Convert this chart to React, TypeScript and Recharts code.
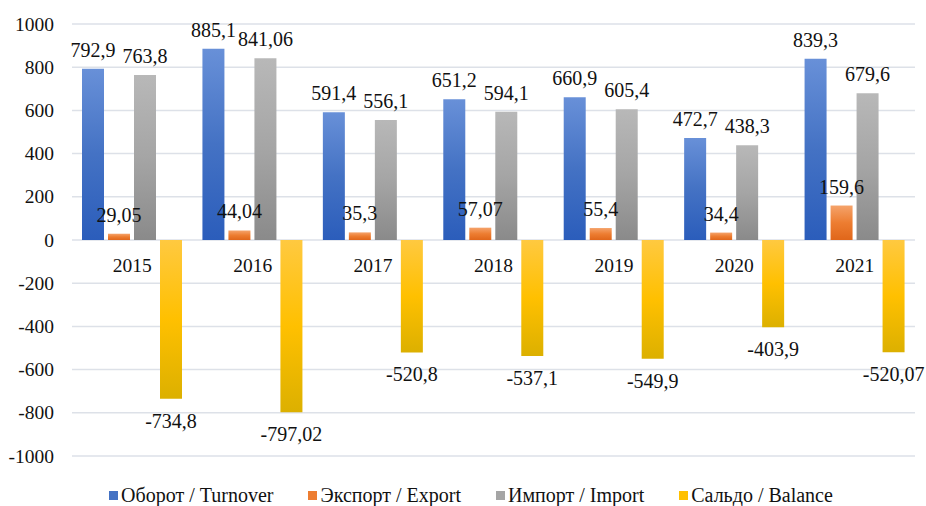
import { Bar, BarChart, CartesianGrid, LabelList, Legend, XAxis, YAxis } from "recharts";

const years = ["2015", "2016", "2017", "2018", "2019", "2020", "2021"];
const turnover = [792.9, 885.1, 591.4, 651.2, 660.9, 472.7, 839.3];
const exportVals = [29.05, 44.04, 35.3, 57.07, 55.4, 34.4, 159.6];
const importVals = [763.8, 841.06, 556.1, 594.1, 605.4, 438.3, 679.6];
const balance = [-734.8, -797.02, -520.8, -537.1, -549.9, -403.9, -520.07];
const yTicks = [-1000, -800, -600, -400, -200, 0, 200, 400, 600, 800, 1000];

// label text as printed in the source (comma decimals)
const turnoverLbl = ["792,9", "885,1", "591,4", "651,2", "660,9", "472,7", "839,3"];
const exportLbl = ["29,05", "44,04", "35,3", "57,07", "55,4", "34,4", "159,6"];
const importLbl = ["763,8", "841,06", "556,1", "594,1", "605,4", "438,3", "679,6"];
const balanceLbl = ["-734,8", "-797,02", "-520,8", "-537,1", "-549,9", "-403,9", "-520,07"];

const data = years.map((y, i) => ({
  year: y,
  turnover: turnover[i],
  export: exportVals[i],
  import: importVals[i],
  balance: balance[i],
  turnoverLbl: turnoverLbl[i],
  exportLbl: exportLbl[i],
  importLbl: importLbl[i],
  balanceLbl: balanceLbl[i],
}));

const FONT = "Liberation Serif";
const W = 926;
const H = 506;
const LEGEND_H = 24;
const M = { top: 24, right: 11, left: 10, bottom: 50 - LEGEND_H - 1 };
const PLOT_H = 432;

const series = [
  { key: "turnover", name: "Оборот / Turnover", stops: ["#6890d8", "#4472c4", "#2b5dbb"], swatch: "#4472c4" },
  { key: "export", name: "Экспорт / Export", stops: ["#f5a36b", "#ed7d31", "#e0661a"], swatch: "#ed7d31" },
  { key: "import", name: "Импорт / Import", stops: ["#b8b8b8", "#a5a5a5", "#8a8a8a"], swatch: "#a5a5a5" },
  { key: "balance", name: "Сальдо / Balance", stops: ["#ffc940", "#ffc000", "#dcb000"], swatch: "#ffc000" },
];

function BarLabel(props: any) {
  const { x, y, width, height, value } = props;
  const top = Math.min(y, y + height);
  const bottom = Math.max(y, y + height);
  const neg = String(value).startsWith("-");
  return (
    <text
      x={x + width / 2}
      y={neg ? bottom + 22 : top - 19}
      textAnchor="middle"
      dominantBaseline="central"
      style={{ fontFamily: FONT, fontSize: 20 }}
      fill="#111"
    >
      {value}
    </text>
  );
}

function YearTick(props: any) {
  const { x, y, payload } = props;
  // category names sit just under the zero line, not at the plot bottom
  return (
    <text x={x} y={y - PLOT_H / 2 + 25} textAnchor="middle" dominantBaseline="central" style={{ fontFamily: FONT, fontSize: 19.5 }} fill="#111">
      {payload.value}
    </text>
  );
}

function ValueTick(props: any) {
  const { x, y, payload } = props;
  return (
    <text x={x} y={y} textAnchor="end" dominantBaseline="central" style={{ fontFamily: FONT, fontSize: 19.5 }} fill="#111">
      {payload.value}
    </text>
  );
}

function LegendBox() {
  return (
    <div style={{ display: "flex", justifyContent: "center", gap: 35, paddingLeft: 17, height: LEGEND_H, fontFamily: FONT, fontSize: 20, color: "#111", lineHeight: `${LEGEND_H}px` }}>
      {series.map((s) => (
        <span key={s.key} style={{ display: "flex", alignItems: "center", fontFamily: FONT }}>
          <span style={{ width: 9, height: 9, background: s.swatch, marginRight: 3, display: "inline-block" }} />
          {s.name}
        </span>
      ))}
    </div>
  );
}

export default function App() {
  return (
    <div style={{ position: "absolute", left: 0, top: 0, width: W, height: H, background: "#fff", fontFamily: FONT }}>
      <BarChart width={W} height={H} data={data} margin={M} barSize={22} barGap={4}>
        <defs>
          {series.map((s) => (
            <linearGradient key={s.key} id={`g-${s.key}`} x1="0" y1="0" x2="0" y2="1">
              <stop offset="0%" stopColor={s.stops[0]} />
              <stop offset="50%" stopColor={s.stops[1]} />
              <stop offset="100%" stopColor={s.stops[2]} />
            </linearGradient>
          ))}
        </defs>
        <CartesianGrid vertical={false} stroke="#dde1e8" strokeWidth={1.5} />
        <XAxis dataKey="year" axisLine={false} tickLine={false} tickSize={0} tickMargin={0} height={1} interval={0} tick={(p: any) => <YearTick {...p} />} />
        <YAxis
          domain={[-1000, 1000]}
          ticks={yTicks}
          width={62}
          axisLine={false}
          tickLine={false}
          tickSize={0}
          tickMargin={18}
          tick={(p: any) => <ValueTick {...p} />}
        />
        <Legend verticalAlign="bottom" height={LEGEND_H} content={<LegendBox />} wrapperStyle={{ bottom: -1 }} />
        {series.map((s) => (
          <Bar key={s.key} dataKey={s.key} name={s.name} fill={`url(#g-${s.key})`} isAnimationActive={false}>
            <LabelList dataKey={`${s.key}Lbl`} content={<BarLabel />} />
          </Bar>
        ))}
      </BarChart>
    </div>
  );
}
